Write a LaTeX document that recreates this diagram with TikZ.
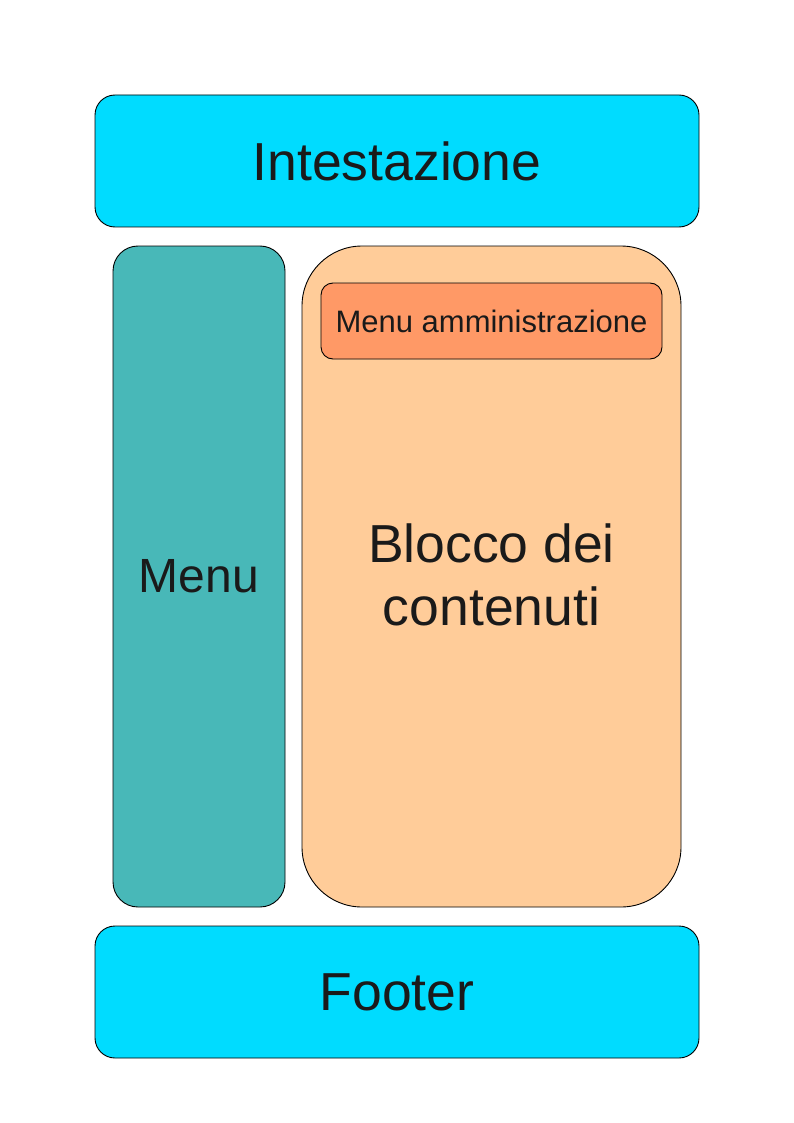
\documentclass[tikz,border=0pt]{standalone}
\usepackage{fontspec}
\setmainfont{Liberation Sans}
\definecolor{cyanbox}{HTML}{00DCFF}
\definecolor{tealbox}{HTML}{48B8B8}
\definecolor{peachbox}{HTML}{FFCC99}
\definecolor{orangebox}{HTML}{FF9966}
\definecolor{txt}{HTML}{1A1A1A}
\begin{document}
\begin{tikzpicture}[x=1pt,y=-1pt,
  box/.style={draw=black,line width=0.9pt,rectangle,inner sep=0pt,text=txt,align=center},
  bigtext/.style={font=\fontsize{53.5}{63}\selectfont}]
\useasboundingbox (0,0) rectangle (794,1123);
\node[box,fill=cyanbox,rounded corners=20pt,minimum width=604pt,minimum height=132pt,bigtext] (head) at (397,161) {Intestazione};
\node[box,fill=tealbox,rounded corners=25pt,minimum width=172pt,minimum height=661pt,font=\fontsize{48}{56}\selectfont] (menu) at (199,576.5) {Menu};
\node[box,fill=peachbox,rounded corners=60pt,minimum width=379pt,minimum height=661pt] (content) at (491.5,576.5) {};
\node[text=txt,align=center,bigtext] (contenttext) at (491.5,575) {Blocco dei\\contenuti};
\node[box,fill=orangebox,rounded corners=12pt,minimum width=341pt,minimum height=76pt,font=\fontsize{31}{36}\selectfont] (admin) at (491.5,321) {Menu amministrazione};
\node[box,fill=cyanbox,rounded corners=20pt,minimum width=604pt,minimum height=132pt,bigtext] (foot) at (397,992) {Footer};
\end{tikzpicture}
\end{document}
